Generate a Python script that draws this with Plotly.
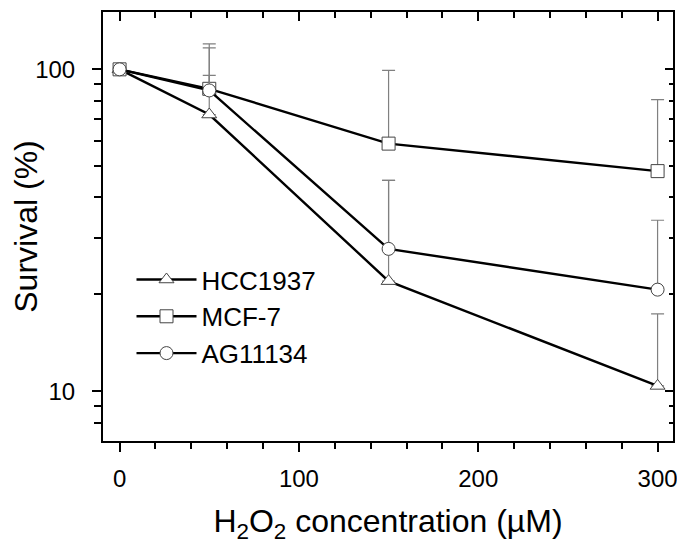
import plotly.graph_objects as go

conc = [0, 50, 150, 300]

hcc_surv = [100, 72.4, 22.0, 10.4]
hcc_upper = [100, 95.8, 45.2, 17.4]

mcf_surv = [100, 87.0, 58.8, 48.3]
mcf_upper = [100, 120.0, 99.3, 80.5]

ag_surv = [100, 86.0, 27.7, 20.7]
ag_upper = [100, 116.6, 45.2, 34.0]

series = [
    ("HCC1937", hcc_surv, hcc_upper, "triangle-up"),
    ("MCF-7", mcf_surv, mcf_upper, "square"),
    ("AG11134", ag_surv, ag_upper, "circle"),
]

FONT = "Liberation Sans, Arial, sans-serif"

fig = go.Figure()
for name, surv, upper, sym in series:
    plus = [u - s for u, s in zip(upper, surv)]
    fig.add_trace(go.Scatter(
        x=conc, y=surv, name=name, mode="lines+markers",
        line=dict(color="black", width=2.4),
        marker=dict(symbol=sym, size=13, color="white",
                    line=dict(color="#444444", width=1)),
        error_y=dict(type="data", symmetric=False, array=plus,
                     arrayminus=[0] * len(plus), color="#808080",
                     thickness=1.2, width=6.5),
    ))

# invisible carrier trace so the mirrored (top/right) axes are drawn
fig.add_trace(go.Scatter(x=conc, y=hcc_surv, xaxis="x2", yaxis="y2",
                         mode="markers", marker=dict(opacity=0),
                         showlegend=False, hoverinfo="skip"))

xr = [-9.25, 308.6]
yr = [0.846, 2.178]
minor_y = [v * m for m in (1, 10, 100) for v in range(2, 10)]

fig.update_layout(
    width=677, height=550,
    margin=dict(l=95, r=12, t=4, b=117),
    paper_bgcolor="white", plot_bgcolor="white",
    font=dict(family=FONT, color="black"),
    showlegend=True,
    legend=dict(x=0.05, y=0.29, xanchor="left", yanchor="middle",
                bgcolor="rgba(0,0,0,0)", font=dict(size=26, family=FONT),
                itemwidth=60, tracegroupgap=0),
    xaxis=dict(
        range=xr, showline=True, linewidth=2, linecolor="black",
        ticks="outside", ticklen=9, tickwidth=1.5, tickcolor="black",
        tickvals=[0, 100, 200, 300], showgrid=False, zeroline=False,
        tickfont=dict(size=24), ticklabelstandoff=6, automargin=False,
        minor=dict(dtick=20, tick0=0, ticks="outside", ticklen=6,
                   tickwidth=1.5, tickcolor="black", showgrid=False),
        title=dict(text="H<sub>2</sub>O<sub>2</sub> concentration (µM)",
                   font=dict(size=32), standoff=19),
    ),
    yaxis=dict(
        type="log", range=yr, showline=True, linewidth=2, linecolor="black",
        ticks="outside", ticklen=9, tickwidth=1.5, tickcolor="black",
        tickvals=[10, 100], ticktext=["10", "100"], showgrid=False,
        zeroline=False, tickfont=dict(size=24), ticklabelstandoff=12,
        automargin=False,
        minor=dict(tickvals=minor_y, ticks="outside", ticklen=7,
                   tickwidth=1.5, tickcolor="black", showgrid=False),
        title=dict(text="Survival (%)", font=dict(size=32), standoff=12),
    ),
    xaxis2=dict(
        overlaying="x", side="top", range=xr, showline=True, linewidth=2,
        linecolor="black", ticks="inside", ticklen=9, tickwidth=1.5,
        tickcolor="black", tickvals=[0, 100, 200, 300], showticklabels=False,
        showgrid=False, zeroline=False, automargin=False,
        minor=dict(dtick=20, tick0=0, ticks="inside", ticklen=6,
                   tickwidth=1.5, tickcolor="black", showgrid=False),
    ),
    yaxis2=dict(
        overlaying="y", side="right", type="log", range=yr, showline=True,
        linewidth=2, linecolor="black", ticks="inside", ticklen=8,
        tickwidth=1.5, tickcolor="black", tickvals=[10, 100],
        showticklabels=False, showgrid=False, zeroline=False,
        automargin=False,
        minor=dict(tickvals=minor_y, ticks="inside", ticklen=4,
                   tickwidth=1.5, tickcolor="black", showgrid=False),
    ),
)

fig.write_html("out.html")
